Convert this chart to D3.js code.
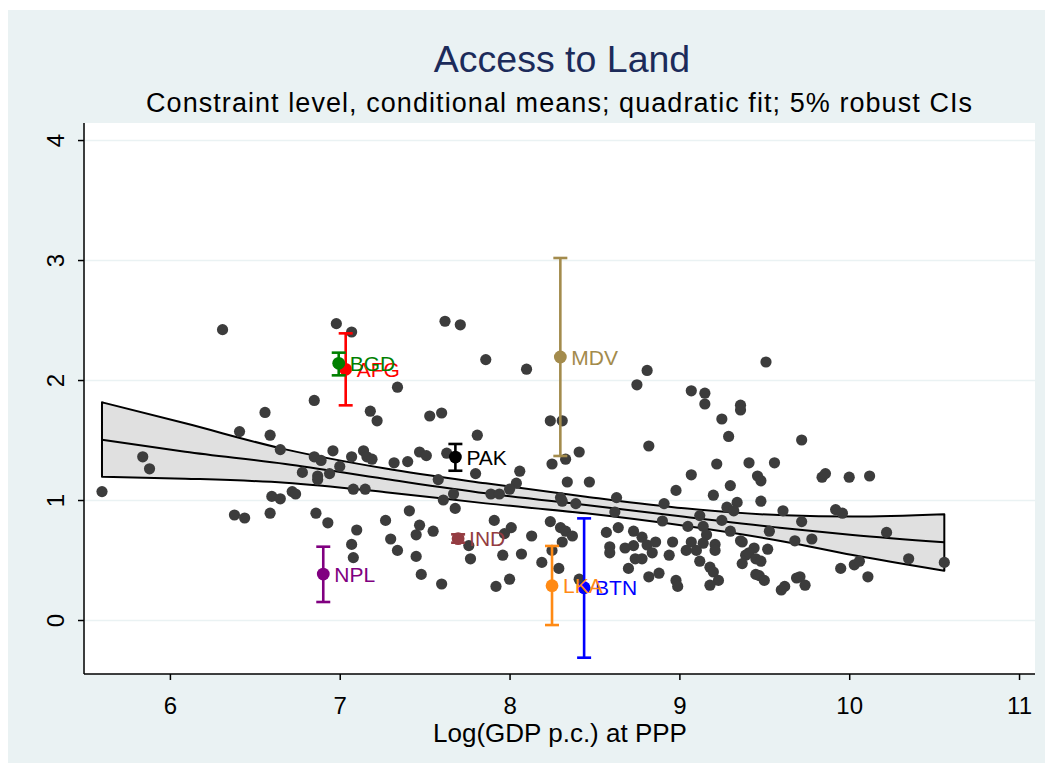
<!DOCTYPE html>
<html>
<head>
<meta charset="utf-8">
<script src="https://cdn.jsdelivr.net/npm/d3@7"></script>
<style>
  body { margin: 0; background: #fff; }
  text { font-family: "Liberation Sans", Arial, sans-serif; }
</style>
</head>
<body>
<svg id="chart"></svg>
<script>
// conditional means per country: log GDP p.c. at PPP vs constraint level
const logGdp = [
  6.31, 6.98, 7.07, 7.34, 6.85, 6.56, 7.18, 7.22, 6.41, 6.59, 6.65, 6.96, 6.85, 6.89, 7.07, 7.14, 7.16, 7.19, 7.00, 7.32,
  5.84, 5.88, 6.78, 6.87, 6.87, 6.94, 7.08, 7.15, 5.60, 6.60, 6.65, 6.72, 6.74, 6.38, 6.44, 6.59, 6.86, 6.93, 7.27, 7.10,
  7.07, 7.30, 7.08, 7.34,
  7.62, 7.71, 7.86, 8.10, 7.53, 7.60, 8.24, 8.31, 7.81, 7.47, 7.51, 7.63, 7.40,
  8.25, 8.33, 8.41, 8.06, 7.80, 7.58, 8.04, 8.00, 8.34, 8.47, 7.67, 7.61,
  7.89, 7.94, 7.68, 7.41, 8.30, 8.31, 8.39, 8.63, 8.62, 8.91, 8.98, 9.07, 8.82, 8.75, 8.81, 9.07,
  7.91, 8.01, 8.24, 8.30, 8.33, 8.37, 8.31, 8.13, 7.97,
  7.45, 7.47, 7.55, 7.76, 7.77, 7.96, 8.07, 8.19, 8.29, 8.25, 7.45, 7.48, 7.60, 7.92, 8.00, 8.41,
  8.57, 8.64, 8.73, 8.78, 8.81, 8.86, 8.84, 8.68, 8.73, 8.59, 8.59, 8.74, 8.78, 8.70, 8.82, 8.88, 8.94, 8.96, 8.90, 9.05,
  9.07, 9.04, 8.98, 8.99,
  9.51, 9.15, 9.15, 9.36, 9.36, 9.25, 9.29, 9.72, 9.22, 9.41, 9.56,
  9.46, 9.48, 9.84, 9.86, 10.00, 10.12, 9.30, 9.20,
  9.48, 9.28, 9.34, 9.32, 9.12, 9.25, 9.61, 9.92, 9.96, 9.72,
  9.14, 9.30, 9.53, 10.22, 9.16,
  9.14, 9.21, 9.21, 9.36, 9.37, 9.68, 9.78,
  9.10, 9.44, 9.52, 9.12, 9.39, 9.41, 9.37, 9.45, 9.48, 9.18, 9.20, 9.23, 9.18, 9.45, 9.47, 9.50, 9.60, 9.62, 9.69, 9.71,
  9.74, 9.95, 10.03, 10.06, 10.11, 10.35, 10.56
];
const constraint = [
  2.42, 2.47, 2.40, 1.94, 1.83, 1.73, 1.74, 1.66, 1.57, 1.54, 1.42, 1.41, 1.36, 1.33, 1.36, 1.41, 1.36, 1.34, 1.28, 1.31,
  1.36, 1.26, 1.23, 1.20, 1.17, 1.22, 1.09, 1.09, 1.07, 1.03, 1.01, 1.07, 1.05, 0.875, 0.85, 0.89, 0.89, 0.81, 0.83, 0.75,
  0.63, 0.675, 0.52, 0.58,
  2.49, 2.46, 2.17, 2.09, 1.70, 1.725, 1.66, 1.66, 1.54, 1.40, 1.37, 1.39, 1.32,
  1.30, 1.34, 1.40, 1.24, 1.22, 1.17, 1.14, 1.09, 1.15, 1.15, 1.05, 1.00,
  1.05, 1.05, 0.93, 0.91, 1.02, 0.99, 0.97, 1.02, 0.90, 0.97, 1.08, 1.21, 1.45, 1.96, 2.08, 1.91,
  0.83, 0.77, 0.82, 0.77, 0.74, 0.70, 0.65, 0.70, 0.72,
  0.71, 0.79, 0.74, 0.62, 0.51, 0.54, 0.55, 0.48, 0.43, 0.58, 0.53, 0.38, 0.30, 0.28, 0.34, 0.34,
  0.73, 0.77, 0.74, 0.69, 0.625, 0.65, 0.56, 0.60, 0.62, 0.61, 0.56, 0.51, 0.51, 0.43, 0.36, 0.39, 0.54, 0.65, 0.825, 0.78,
  0.65, 0.58, 0.33, 0.28,
  2.15, 1.89, 1.80, 1.79, 1.75, 1.675, 1.53, 1.50, 1.30, 1.31, 1.31,
  1.20, 1.16, 1.19, 1.22, 1.19, 1.20, 1.12, 1.04,
  0.99, 0.94, 0.98, 0.91, 0.87, 0.83, 0.91, 0.92, 0.89, 0.82,
  0.78, 0.74, 0.74, 0.73, 0.71,
  0.64, 0.63, 0.58, 0.66, 0.65, 0.66, 0.675,
  0.58, 0.60, 0.59, 0.49, 0.54, 0.56, 0.47, 0.51, 0.49, 0.44, 0.40, 0.33, 0.29, 0.38, 0.37, 0.33, 0.25, 0.28, 0.35, 0.36,
  0.29, 0.43, 0.46, 0.49, 0.36, 0.51, 0.48
];

// quadratic fit and its confidence band
const fitX  = [5.60, 6.09, 6.68, 7.27, 7.86, 8.45, 9.03, 9.62, 10.02, 10.56];
const fitY  = [1.503, 1.403, 1.300, 1.175, 1.056, 0.958, 0.861, 0.764, 0.708, 0.647];
const fitLo = [1.194, 1.178, 1.144, 1.065, 0.972, 0.889, 0.785, 0.653, 0.542, 0.411];
const fitHi = [1.814, 1.639, 1.422, 1.262, 1.139, 1.028, 0.931, 0.872, 0.862, 0.881];

// highlighted South Asian countries with 5% CIs
const codes = ["AFG", "BGD", "BTN", "IND", "LKA", "MDV", "NPL", "PAK"];
const codeX  = [7.035, 6.994, 8.439, 7.697, 8.250, 8.299, 6.903, 7.681];
const codeY  = [2.089, 2.139, 0.269, 0.678, 0.286, 2.192, 0.383, 1.358];
const codeLo = [1.789, 2.039, -0.314, 0.644, -0.042, 1.367, 0.150, 1.244];
const codeHi = [2.389, 2.228, 0.847, 0.714, 0.617, 3.017, 0.611, 1.467];

const xTicks = [6, 7, 8, 9, 10, 11];
const yTicks = [0, 1, 2, 3, 4];

const colours = {
  AFG: "#ff0000", BGD: "#008000", BTN: "#0000ff", IND: "#943c42",
  LKA: "#ff8a14", MDV: "#a38b4c", NPL: "#800080", PAK: "#000000"
};

const W = 1052, H = 771;
const box = {left: 85, right: 1035, top: 123, bottom: 674};

let svg = d3.select("svg#chart")
  .attr("width", W)
  .attr("height", H)
  .style("background", "#fff");

// graph region and plot region
svg.append("rect").attr("x", 8).attr("y", 10).attr("width", 1037).attr("height", 753).attr("fill", "#eaf2f3");
svg.append("rect").attr("x", box.left).attr("y", box.top)
  .attr("width", box.right - box.left).attr("height", box.bottom - box.top).attr("fill", "#fff");

const x = d3.scaleLinear().domain([5.5, 11.094]).range([box.left, box.right]);
const y = d3.scaleLinear().domain([-0.45, 4.142]).range([box.bottom, box.top]);

// horizontal grid
let grid = svg.append("g").attr("transform", `translate(${box.left},0)`)
  .call(d3.axisLeft(y).tickValues(yTicks).tickSize(-(box.right - box.left)).tickFormat(""));
grid.select(".domain").remove();
grid.selectAll("line").attr("stroke", "#eaf2f3").attr("stroke-width", 1.6);

// fitted band
const idx = d3.range(fitX.length);
svg.append("path")
  .attr("d", d3.area().x(i => x(fitX[i])).y0(i => y(fitLo[i])).y1(i => y(fitHi[i])).curve(d3.curveMonotoneX)(idx))
  .attr("fill", "#e0e0e0").attr("stroke", "#000").attr("stroke-width", 2).attr("stroke-linejoin", "round");
svg.append("path")
  .attr("d", d3.line().x(i => x(fitX[i])).y(i => y(fitY[i])).curve(d3.curveMonotoneX)(idx))
  .attr("fill", "none").attr("stroke", "#000").attr("stroke-width", 2);

// all countries
svg.selectAll(".point").data(logGdp).join("circle").attr("class", "point")
  .attr("cx", d => x(d)).attr("cy", (d, i) => y(constraint[i]))
  .attr("r", 5.6).attr("fill", "#3c3c3c");

// highlighted countries
codes.forEach((c, i) => {
  const g = svg.append("g").attr("stroke", colours[c]).attr("fill", colours[c]);
  const cx = x(codeX[i]);
  g.append("line").attr("x1", cx).attr("x2", cx).attr("y1", y(codeLo[i])).attr("y2", y(codeHi[i])).attr("stroke-width", 2.6);
  [codeLo[i], codeHi[i]].forEach(v => {
    g.append("line").attr("x1", cx - 7).attr("x2", cx + 7).attr("y1", y(v)).attr("y2", y(v)).attr("stroke-width", 2.6);
  });
  g.append("circle").attr("cx", cx).attr("cy", y(codeY[i])).attr("r", 6.4).attr("stroke", "none");
  g.append("text").attr("x", cx + 11).attr("y", y(codeY[i])).attr("dy", "0.36em")
    .attr("stroke", "none").style("font-size", "21px").text(c);
});

// axes
let yAxis = svg.append("g").attr("transform", `translate(${box.left - 1},0)`)
  .call(d3.axisLeft(y).tickValues(yTicks).tickFormat(d3.format("d")).tickSize(6).tickSizeOuter(0));
yAxis.select(".domain").attr("stroke-width", 1.5).attr("d", `M0,${box.top}V${box.bottom}`);
yAxis.selectAll(".tick line").attr("stroke-width", 1.5);
yAxis.selectAll(".tick text")
  .attr("x", 0).attr("dy", 0)
  .attr("transform", "translate(-20,0) rotate(-90)")
  .attr("text-anchor", "middle")
  .attr("fill", "#000")
  .style("font-size", "24px");

let xAxis = svg.append("g").attr("transform", `translate(0,${box.bottom})`)
  .call(d3.axisBottom(x).tickValues(xTicks).tickFormat(d3.format("d")).tickSize(6).tickSizeOuter(0).tickPadding(17));
xAxis.select(".domain").attr("stroke-width", 1.5).attr("d", `M${box.left - 1},0H${box.right}`);
xAxis.selectAll(".tick line").attr("stroke-width", 1.5);
xAxis.selectAll(".tick text").attr("fill", "#000").style("font-size", "24px");

// titles
svg.append("text").attr("x", 562).attr("y", 72).attr("text-anchor", "middle")
  .attr("fill", "#1c2b5a").style("font-size", "37.5px").text("Access to Land");
svg.append("text").attr("x", 559).attr("y", 112).attr("text-anchor", "middle")
  .attr("fill", "#000").style("font-size", "27px")
  .attr("textLength", 826).attr("lengthAdjust", "spacing")
  .text("Constraint level, conditional means; quadratic fit; 5% robust CIs");
svg.append("text").attr("x", 560).attr("y", 742).attr("text-anchor", "middle")
  .attr("fill", "#000").style("font-size", "26px").text("Log(GDP p.c.) at PPP");
</script>
</body>
</html>
